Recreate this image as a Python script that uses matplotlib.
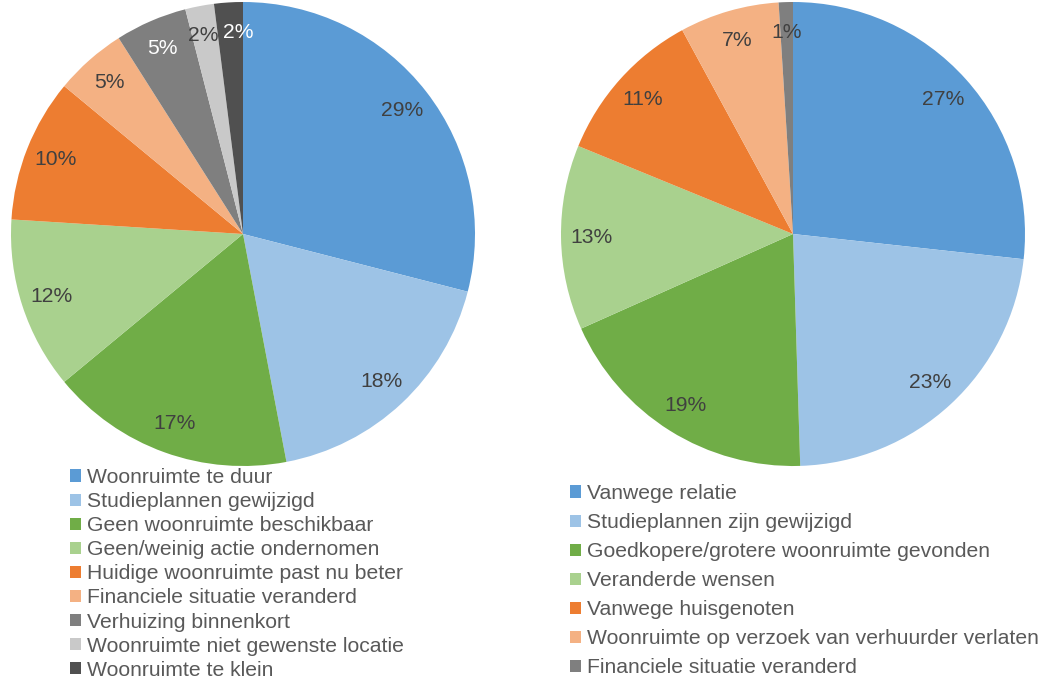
"""
Two pie charts: reasons for (not) moving, with legends below each pie
"""

import matplotlib.pyplot as plt

plt.rcParams["font.family"] = ["Liberation Sans", "DejaVu Sans"]

# * Data
LEFT_LABELS = [
    "Woonruimte te duur",
    "Studieplannen gewijzigd",
    "Geen woonruimte beschikbaar",
    "Geen/weinig actie ondernomen",
    "Huidige woonruimte past nu beter",
    "Financiele situatie veranderd",
    "Verhuizing binnenkort",
    "Woonruimte niet gewenste locatie",
    "Woonruimte te klein",
]
LEFT_VALUES = [29, 18, 17, 12, 10, 5, 5, 2, 2]

RIGHT_LABELS = [
    "Vanwege relatie",
    "Studieplannen zijn gewijzigd",
    "Goedkopere/grotere woonruimte gevonden",
    "Veranderde wensen",
    "Vanwege huisgenoten",
    "Woonruimte op verzoek van verhuurder verlaten",
    "Financiele situatie veranderd",
]
RIGHT_VALUES = [27, 23, 19, 13, 11, 7, 1]

# * Styling
LEFT_COLORS = ["#5B9BD5", "#9DC3E6", "#70AD47", "#A9D18E", "#ED7D31",
               "#F4B183", "#7F7F7F", "#C9C9C9", "#505050"]
RIGHT_COLORS = ["#5B9BD5", "#9DC3E6", "#70AD47", "#A9D18E", "#ED7D31",
                "#F4B183", "#7F7F7F"]
LEFT_LABEL_COLORS = ["#404040"] * 6 + ["white", "#404040", "white"]
RIGHT_LABEL_COLORS = ["#404040"] * 7

W, H = 1047, 679
FONT_SIZE = 15.25


def draw_pie(ax, values, colors, label_colors):
    """Pie clockwise from 12 o'clock with percentage labels"""
    total = sum(values)
    wedges, _, autotexts = ax.pie(
        values,
        colors=colors,
        startangle=90,
        counterclock=False,
        radius=1.0,
        pctdistance=0.87,
        autopct=lambda p: f"{round(p * total / 100)}%",
        textprops={"fontsize": FONT_SIZE},
        wedgeprops={"linewidth": 0},
    )
    for txt, col in zip(autotexts, label_colors):
        txt.set_color(col)
    ax.set_xlim(-1, 1)
    ax.set_ylim(-1, 1)
    ax.set_aspect("equal")
    ax.axis("off")
    return wedges, autotexts


def add_legend(fig, wedges, labels, x_px, y_px, spacing):
    fig.legend(
        wedges,
        labels,
        loc="upper left",
        bbox_to_anchor=(x_px / W, 1 - y_px / H),
        bbox_transform=fig.transFigure,
        frameon=False,
        fontsize=FONT_SIZE,
        labelcolor="#595959",
        handlelength=0.5,
        handleheight=0.5,
        handletextpad=0.3,
        labelspacing=spacing,
        borderpad=0,
        borderaxespad=0,
    )


def main() -> None:
    fig = plt.figure(figsize=(W / 100, H / 100), dpi=100)

    ax_left = fig.add_axes([11 / W, 1 - 466 / H, 464 / W, 464 / H])
    ax_right = fig.add_axes([561 / W, 1 - 466 / H, 464 / W, 464 / H])

    left_wedges, left_texts = draw_pie(
        ax_left, LEFT_VALUES, LEFT_COLORS, LEFT_LABEL_COLORS
    )
    right_wedges, _ = draw_pie(
        ax_right, RIGHT_VALUES, RIGHT_COLORS, RIGHT_LABEL_COLORS
    )

    # * Nudge the two small top labels apart so they don't collide
    x, y = left_texts[-1].get_position()
    left_texts[-1].set_position((x + 0.035, y))
    x, y = left_texts[-2].get_position()
    left_texts[-2].set_position((x - 0.01, y))

    add_legend(fig, left_wedges, LEFT_LABELS, 70, 468, 0.24)
    add_legend(fig, right_wedges, RIGHT_LABELS, 570, 484, 0.475)

    fig.savefig("out.png", dpi=100)


if __name__ == "__main__":
    main()
